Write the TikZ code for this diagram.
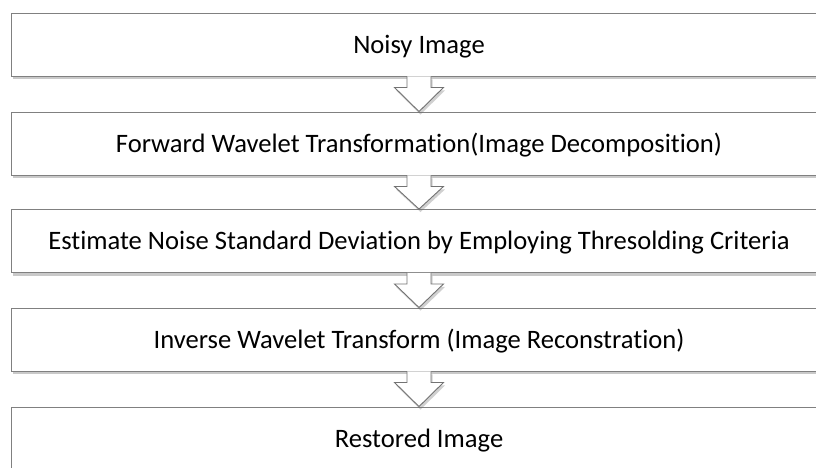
\documentclass[tikz,border=0pt]{standalone}
\usepackage{fontspec}
\setmainfont{Carlito}[Ligatures=NoCommon]
\usetikzlibrary{shadows,calc}
\begin{document}
\begin{tikzpicture}[x=1pt,y=-1pt,
  stepbox/.style={draw=black!50, line width=0.9pt, fill=white, minimum width=816pt, minimum height=63pt,
    inner sep=0pt, text height=17pt, text depth=0pt, font=\fontsize{26.6}{30}\selectfont,
    drop shadow={shadow xshift=1.5pt, shadow yshift=-3pt, opacity=0.35, fill=black!60}},
  blockarrow/.style={draw=black!55, line width=0.9pt, fill=white, line join=miter,
    drop shadow={shadow xshift=1.5pt, shadow yshift=-3pt, opacity=0.3, fill=black!60}}]
\useasboundingbox (0,0) rectangle (816,467);
\clip (0,0) rectangle (816,467);
\fill[white] (0,0) rectangle (816,467);
\node[stepbox] (n1) at (419,44.5) {Noisy Image};
\node[stepbox] (n2) at (419,143.5) {Forward Wavelet Transformation(Image Decomposition)};
\node[stepbox] (n3) at (419,241) {Estimate Noise Standard Deviation by Employing Thresolding Criteria};
\node[stepbox] (n4) at (419,339.5) {Inverse Wavelet Transform (Image Reconstration)};
\node[stepbox] (n5) at (419,438.5) {Restored Image};
\foreach \a/\b in {n1/n2,n2/n3,n3/n4,n4/n5}{
  \draw[blockarrow] ($(\a.south)+(-12,0)$) -- ++(0,11) -- ++(-12.5,0) -- (\b.north)
    -- ($(\a.south)+(24.5,11)$) -- ++(-12.5,0) -- ($(\a.south)+(12,0)$);
}
\end{tikzpicture}
\end{document}
